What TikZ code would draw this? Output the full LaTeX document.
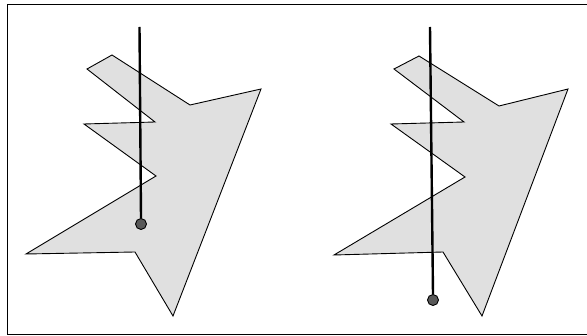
\documentclass[tikz,border=0pt]{standalone}
\begin{document}
\begin{tikzpicture}[x=1pt,y=-1pt,
  shape outline/.style={draw=black, line width=0.9pt, fill=black!12, line join=miter},
  rod/.style={draw=black, line width=2.4pt},
  knob/.style={circle, draw=black, line width=0.9pt, fill=black!65, minimum size=11pt, inner sep=0pt},
  frame/.style={draw=black, line width=0.9pt}]
\useasboundingbox (0,0) rectangle (587,336);
% frame (open on the right)
\draw[frame] (587,4.5) -- (7,4.5) -- (7,334) -- (587,334);
% left figure
\draw[shape outline] (112,55) -- (87,69) -- (155,122) -- (84,124) -- (156,176) -- (26,254) -- (135,252) -- (173,316) -- (261,89) -- (190,105) -- cycle;
\coordinate (ltop) at (139.5,27);
\node[knob] (lk) at (141,224) {};
\draw[rod] (ltop) -- (lk.north);
% right figure
\draw[shape outline] (419,56) -- (394,69) -- (464,122) -- (391,124) -- (465,177) -- (334,255) -- (443,252) -- (482,316) -- (568,89) -- (499,106) -- cycle;
\coordinate (rtop) at (430,27);
\node[knob] (rk) at (433,300) {};
\draw[rod] (rtop) -- (rk.north);
\end{tikzpicture}
\end{document}
